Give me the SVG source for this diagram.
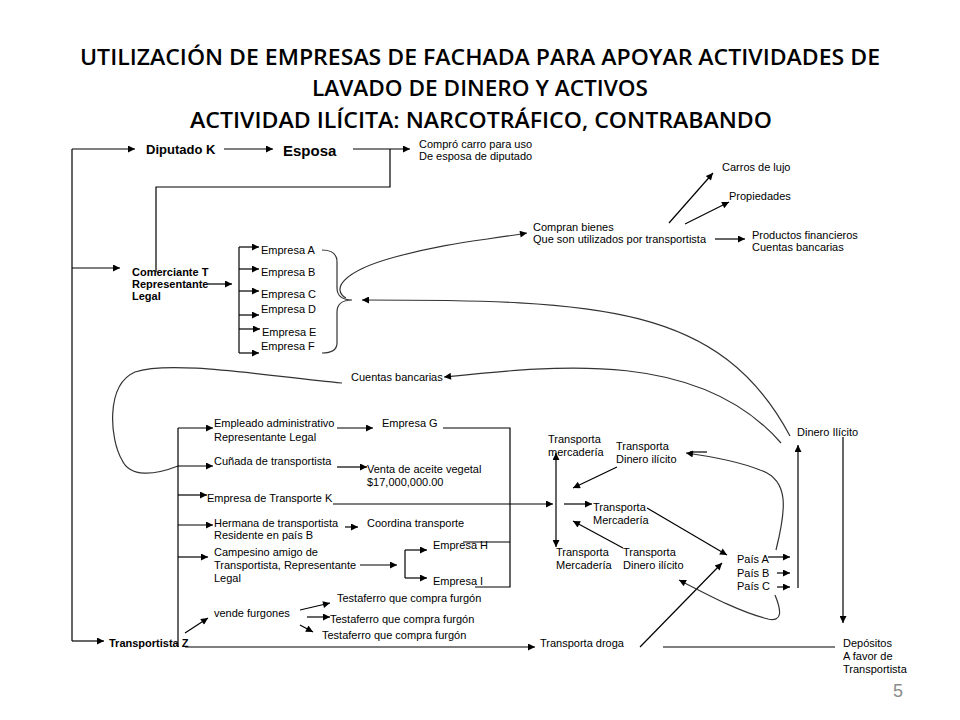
<svg xmlns="http://www.w3.org/2000/svg" width="960" height="720" viewBox="0 0 960 720">
<defs>
<marker id="ah" viewBox="0 0 10 10" refX="10" refY="5" markerWidth="9" markerHeight="7" markerUnits="userSpaceOnUse" orient="auto"><path d="M0,0 L10,5 L0,10 z" fill="#000"/></marker>
<style>
.t{font-family:"Liberation Sans",Arial,sans-serif;font-size:11px;fill:#000}
.b{font-family:"Liberation Sans",Arial,sans-serif;font-size:11px;font-weight:bold;fill:#000}
.h{font-family:"Open Sans","Liberation Sans",sans-serif;font-size:22px;font-weight:600;fill:#000;text-anchor:middle}
.c line,.c path{stroke:#000;stroke-width:1.2;fill:none}
.c .a{marker-end:url(#ah)}
.c .cv{stroke:#333}
</style>
</defs>
<rect width="960" height="720" fill="#fff"/>
<g id="title">
<text class="h" x="480" y="65" textLength="800" lengthAdjust="spacingAndGlyphs">UTILIZACIÓN DE EMPRESAS DE FACHADA PARA APOYAR ACTIVIDADES DE</text>
<text class="h" x="480" y="96" textLength="336" lengthAdjust="spacingAndGlyphs">LAVADO DE DINERO Y ACTIVOS</text>
<text class="h" x="481" y="128" textLength="582" lengthAdjust="spacingAndGlyphs">ACTIVIDAD ILÍCITA: NARCOTRÁFICO, CONTRABANDO</text>
</g>
<g class="c" id="connectors">
<path d="M72,149 V641"/>
<path class="a" d="M72,149 H135"/>
<path class="a" d="M72,268 H120"/>
<path class="a" d="M72,641 H104"/>
<path class="a" d="M224,149 H273"/>
<path class="a" d="M353,149 H410"/>
<path d="M390,149 V187 H156 V272"/>
<path class="a" d="M208,284 H232"/>
<path d="M239,247 V353"/>
<path class="a" d="M239,247 H259"/>
<path class="a" d="M239,269 H259"/>
<path class="a" d="M239,291 H259"/>
<path class="a" d="M239,315 H259"/>
<path class="a" d="M239,329 H260"/>
<path class="a" d="M239,353 H259"/>
<path class="cv" d="M322,250 C332,250 337,254 337,262 V288 C337,296 343,300 352,300 C343,300 337,304 337,312 V343 C337,350 332,353 322,353"/>
<path class="a cv" d="M346,298 C332,290 340,272 395,257 S480,241 527,233"/>
<path class="a cv" d="M790,436 C720,305 600,300 362,300"/>
<path class="a cv" d="M781,443 C700,350 560,365 444,377"/>
<path class="cv" d="M342,383 C260,375 170,360 135,372 C105,385 110,440 122,460 C130,478 155,475 178,466"/>
<path class="a" d="M669,223 L713,173"/>
<path class="a" d="M685,224 L729,202"/>
<path class="a" d="M715,239 H745"/>
<path d="M178,428 V647"/>
<path class="a" d="M178,428 H213"/>
<path class="a" d="M178,466 H213"/>
<path class="a" d="M178,495 H207"/>
<path class="a" d="M178,525 H213"/>
<path class="a" d="M178,557 H208"/>
<path class="a" d="M337,428 H373"/>
<path d="M443,428 H510 V587 H475"/>
<path d="M463,542 H510"/>
<path class="a" d="M337,467 H367"/>
<path class="a" d="M333,504 H553"/>
<path class="a" d="M345,527 H358"/>
<path class="a" d="M360,565 H397"/>
<path d="M405,550 V578"/>
<path class="a" d="M405,550 H427"/>
<path class="a" d="M405,578 H427"/>
<path class="a" d="M185,633 L208,618"/>
<path class="a" d="M300,610 L330,603"/>
<path class="a" d="M307,617 H330"/>
<path class="a" d="M300,625 L313,632"/>
<path class="a" d="M185,647 H535"/>
<path class="a" d="M640,647 L722,563"/>
<path d="M663,647 H835"/>
<path class="a" d="M556,504 V453"/>
<path class="a" d="M556,504 V547"/>
<path class="a" d="M564,504 H592"/>
<path class="a" d="M617,467 L573,488"/>
<path class="a" d="M623,548 L573,521"/>
<path class="a" d="M647,508 L727,555"/>
<path class="a" d="M768,557 H790"/>
<path class="a" d="M777,573 H790"/>
<path class="a" d="M777,587 H790"/>
<path class="a" d="M798,588 V445"/>
<path class="a" d="M843,437 V623"/>
<path class="a cv" d="M776,550 C786,510 790,480 760,470 C740,462 715,457 686,453"/>
<path d="M707,452 H690"/>
<path class="a cv" d="M775,595 C782,612 782,622 768,619 C740,612 710,596 679,580"/>
</g>
<g id="diputado"><text x="146" y="154" font-family="Liberation Sans, Arial, sans-serif" font-size="13" font-weight="bold">Diputado K</text></g>
<g id="esposa"><text x="283" y="156" font-family="Liberation Sans, Arial, sans-serif" font-size="15" font-weight="bold">Esposa</text></g>
<g id="compro"><text class="t" x="419" y="148">Compró carro para uso</text><text class="t" x="419" y="160">De esposa de diputado</text></g>
<g id="comerciante"><text class="b" x="132" y="276">Comerciante T</text><text class="b" x="132" y="288">Representante</text><text class="b" x="132" y="300">Legal</text></g>
<g id="empresas">
<text class="t" x="261" y="254">Empresa A</text>
<text class="t" x="261" y="276">Empresa B</text>
<text class="t" x="261" y="298">Empresa C</text>
<text class="t" x="261" y="313">Empresa D</text>
<text class="t" x="262" y="336">Empresa E</text>
<text class="t" x="261" y="350">Empresa F</text>
</g>
<g id="compran"><text class="t" x="533" y="231">Compran bienes</text><text class="t" x="533" y="243">Que son utilizados por transportista</text></g>
<g id="carros"><text class="t" x="722" y="171">Carros de lujo</text></g>
<g id="propiedades"><text class="t" x="729" y="200">Propiedades</text></g>
<g id="productos"><text class="t" x="752" y="239">Productos financieros</text><text class="t" x="752" y="251">Cuentas bancarias</text></g>
<g id="cuentas"><text class="t" x="351" y="381">Cuentas bancarias</text></g>
<g id="empleado"><text class="t" x="214" y="427">Empleado administrativo</text><text class="t" x="214" y="441">Representante Legal</text></g>
<g id="empresaG"><text class="t" x="382" y="427">Empresa G</text></g>
<g id="cunada"><text class="t" x="214" y="465">Cuñada de transportista</text></g>
<g id="venta"><text class="t" x="367" y="473">Venta de aceite vegetal</text><text class="t" x="367" y="486">$17,000,000.00</text></g>
<g id="transporteK"><text class="t" x="207" y="502">Empresa de Transporte K</text></g>
<g id="hermana"><text class="t" x="214" y="527">Hermana de transportista</text><text class="t" x="214" y="539">Residente en país B</text></g>
<g id="coordina"><text class="t" x="367" y="527">Coordina transporte</text></g>
<g id="campesino"><text class="t" x="214" y="556">Campesino amigo de</text><text class="t" x="214" y="569">Transportista, Representante</text><text class="t" x="214" y="582">Legal</text></g>
<g id="empresaH"><text class="t" x="433" y="549">Empresa H</text></g>
<g id="empresaI"><text class="t" x="433" y="585">Empresa I</text></g>
<g id="vende"><text class="t" x="214" y="617">vende furgones</text></g>
<g id="testaferros">
<text class="t" x="337" y="602">Testaferro que compra furgón</text>
<text class="t" x="330" y="623">Testaferro que compra furgón</text>
<text class="t" x="322" y="639">Testaferro que compra furgón</text>
</g>
<g id="transportistaZ"><text class="b" x="109" y="647">Transportista Z</text></g>
<g id="droga"><text class="t" x="540" y="647">Transporta droga</text></g>
<g id="depositos"><text class="t" x="843" y="647">Depósitos</text><text class="t" x="843" y="660">A favor de</text><text class="t" x="843" y="673">Transportista</text></g>
<g id="tm1"><text class="t" x="548" y="443">Transporta</text><text class="t" x="548" y="456">mercadería</text></g>
<g id="tdi1"><text class="t" x="616" y="450">Transporta</text><text class="t" x="616" y="463">Dinero ilícito</text></g>
<g id="tm2"><text class="t" x="593" y="511">Transporta</text><text class="t" x="593" y="524">Mercadería</text></g>
<g id="tm3"><text class="t" x="556" y="556">Transporta</text><text class="t" x="556" y="569">Mercadería</text></g>
<g id="tdi2"><text class="t" x="623" y="556">Transporta</text><text class="t" x="623" y="569">Dinero ilícito</text></g>
<g id="paises"><text class="t" x="737" y="563">País A</text><text class="t" x="737" y="577">País B</text><text class="t" x="737" y="590">País C</text></g>
<g id="dinero"><text class="t" x="797" y="436">Dinero Ilícito</text></g>
<g id="page"><text x="893" y="697" font-family="Liberation Sans, Arial, sans-serif" font-size="18" fill="#8c8c8c">5</text></g>
</svg>
